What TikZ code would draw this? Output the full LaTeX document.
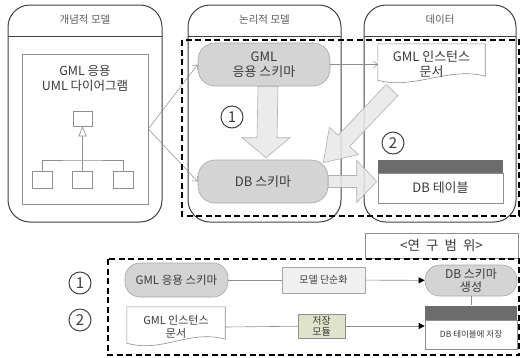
\documentclass[tikz,border=0pt]{standalone}
\usepackage{fontspec}
\setmainfont{Noto Sans CJK KR}
\usepackage{tikz}
\usetikzlibrary{arrows.meta,positioning,calc}
\usepackage{xcolor}
\definecolor{PillGray}{HTML}{D4D4D4}
\definecolor{PillLine}{HTML}{A6A6A6}
\definecolor{ArrowFill}{HTML}{E8E8E8}
\definecolor{ArrowLine}{HTML}{B0B0B0}
\definecolor{FrameLine}{HTML}{404040}
\definecolor{ThinLine}{HTML}{8E8E8E}
\definecolor{TableBar}{HTML}{6C6C6C}
\definecolor{SoftGray}{HTML}{F0F0F0}
\definecolor{SoftOlive}{HTML}{E0E3CB}
\definecolor{TextGray}{HTML}{3A3A3A}
\definecolor{HeadGray}{HTML}{5A5A5A}

\begin{document}
\begin{tikzpicture}[x=1pt,y=-1pt,
  every node/.style={text=TextGray,align=center,inner sep=1pt},
  pill/.style={draw=PillLine,fill=PillGray,rounded corners=17pt,line width=0.6pt},
  thinarr/.style={draw=ThinLine,line width=0.5pt,-{Straight Barb[length=4pt,width=7pt]}},
  bigarr/.style={draw=ArrowLine,fill=ArrowFill,fill opacity=0.85,line width=0.6pt},
  lowline/.style={draw=ThinLine,line width=0.6pt},
  lowarr/.style={lowline,-{Triangle[length=6pt,width=6pt,color=black]}},
  numcirc/.style={draw=FrameLine,circle,line width=1pt,minimum size=22pt,inner sep=0pt,font=\fontsize{15}{15}\selectfont},
  docline/.style={draw=ThinLine,fill=white,line width=0.6pt},
  arealine/.style={line width=1.4pt,dash pattern=on 6pt off 3.5pt}]
\useasboundingbox (0,0) rectangle (521,357);

% three columns
\foreach \xa/\xb/\ttl [count=\i] in {8/162/개념적 모델, 188/341/논리적 모델, 364/516/데이터} {
  \draw[FrameLine,line width=1pt,rounded corners=22pt] (\xa,36) -- (\xa,5) -- (\xb,5) -- (\xb,36);
  \draw[FrameLine,line width=1pt] (\xa,36) -- (\xb,36);
  \draw[FrameLine,line width=1pt,rounded corners=22pt] (\xa,36) -- (\xa,222) -- (\xb,222) -- (\xb,36);
  \node[text=HeadGray,font=\fontsize{10.5}{12}\selectfont] (col\i) at ({(\xa+\xb)/2},20) {\ttl};
}

% uml diagram
\node[draw=ThinLine,line width=0.6pt,minimum width=126pt,minimum height=150pt] (umlframe) at (85,129) {};
\node[font=\fontsize{12.5}{15}\selectfont] (umltitle) at (85,78) {GML 응용\\UML 다이어그램};
\node[draw=ThinLine,line width=0.6pt,minimum width=19pt,minimum height=15pt,inner sep=0pt] (cls) at (82.5,118.5) {};
\node[draw=ThinLine,line width=0.6pt,minimum width=20pt,minimum height=17pt,inner sep=0pt] (sub1) at (42,179.5) {};
\node[draw=ThinLine,line width=0.6pt,minimum width=20pt,minimum height=17pt,inner sep=0pt] (sub2) at (82.5,179.5) {};
\node[draw=ThinLine,line width=0.6pt,minimum width=20pt,minimum height=17pt,inner sep=0pt] (sub3) at (123,179.5) {};
\coordinate (junc) at (82.5,160);
\draw[lowline,-{Triangle[open,length=10pt,width=8pt]}] (junc) -- (cls.south);
\draw[lowline] (sub1.north) |- (junc) -| (sub3.north);
\draw[lowline] (sub2.north) -- (junc);

% logical model and data
\node[pill,minimum width=132pt,minimum height=43pt,font=\fontsize{13}{15.5}\selectfont] (gs) at (264,64.5) {GML\\응용 스키마};
\node[pill,minimum width=130pt,minimum height=43pt,font=\fontsize{13}{15.5}\selectfont] (ds) at (263,181.5) {DB 스키마};
\node[minimum width=107pt,minimum height=28pt] (doc) at (431.5,64) {};
\node[draw=ThinLine,line width=0.6pt,minimum width=125pt,minimum height=30pt,font=\fontsize{13}{15.5}\selectfont] (tbl) at (440.5,188) {DB 테이블};
\node[fill=TableBar,minimum width=125pt,minimum height=13pt,inner sep=0pt,above=0pt of tbl] (tblbar) {};
\node[numcirc] (n1) at (232,117) {1};
\node[numcirc] (n2) at (393,143) {2};

\draw[thinarr] (umlframe.east) -- (gs.west);
\draw[thinarr] (umlframe.east) -- (ds.west);
\draw[thinarr] (gs.east) -- (gs.east -| doc.west);

% wide arrows
\draw[bigarr] ($(gs.south)+(-6,0)$) -- ($(ds.north)+(-6,-22)$) -- ($(ds.north)+(-21,-22)$)
  -- ($(ds.north)+(3,-2)$) -- ($(ds.north)+(27,-22)$) -- ($(ds.north)+(14,-22)$) -- ($(gs.south)+(14,0)$) -- cycle;
\draw[bigarr] ($(ds.east)+(0,-6)$) -- ($(tbl.west |- ds.east)+(-21,-6)$) -- ($(tbl.west |- ds.east)+(-21,-21)$)
  -- ($(tbl.west |- ds.east)+(-1,0)$) -- ($(tbl.west |- ds.east)+(-21,21)$) -- ($(tbl.west |- ds.east)+(-21,6)$) -- ($(ds.east)+(0,6)$) -- cycle;
\begin{scope}[shift={(392,90)},rotate=226.6]
  \draw[bigarr] (0,-8) -- (70,-8) -- (70,-20) -- (100,0) -- (70,20) -- (70,8) -- (0,8) -- cycle;
\end{scope}

% research area
\node[draw=ThinLine,fill=white,line width=0.6pt,minimum width=153pt,minimum height=25pt,font=\fontsize{13.5}{15}\selectfont] (area) at (441.5,245.5) {<연~~구~~범~~위>};
\draw[arealine] (182,40) rectangle (519,216);
\draw[arealine] (108,259) rectangle (519,355);

\node[numcirc] (n1b) at (80,283) {1};
\node[numcirc] (n2b) at (80,320) {2};
\node[pill,rounded corners=15pt,minimum width=103pt,minimum height=34pt,font=\fontsize{11.5}{13}\selectfont] (gs2) at (176.5,280) {GML 응용 스키마};
\node[draw=PillLine,fill=SoftGray,line width=0.6pt,minimum width=83pt,minimum height=26pt,font=\fontsize{10}{11}\selectfont] (simp) at (323.5,280) {모델 단순화};
\node[pill,rounded corners=15pt,minimum width=92pt,minimum height=31pt,font=\fontsize{12}{13}\selectfont] (ds2) at (471,280.5) {DB 스키마\\생성};
\node[minimum width=98pt,minimum height=28pt] (doc2) at (176,327) {};
\node[draw=ThinLine,fill=SoftOlive,line width=0.6pt,minimum width=47pt,minimum height=24pt,font=\fontsize{10}{11.5}\selectfont] (store) at (321.5,326) {저장\\모듈};
\node[draw=ThinLine,line width=0.6pt,minimum width=92pt,minimum height=29pt,font=\fontsize{8.5}{10}\selectfont] (tbl2) at (471,334.5) {DB 테이블에 저장};
\node[fill=TableBar,minimum width=92pt,minimum height=14pt,inner sep=0pt,above=0pt of tbl2] (tbl2bar) {};

% document shapes
\foreach \d in {doc,doc2} {
  \draw[docline] ($(\d.north west)+(0,-6)$) -- ($(\d.north east)+(0,-6)$) -- ($(\d.south east)+(0,-2)$)
    .. controls +(-36,-10) and +(36,10) .. ($(\d.south west)+(0,2)$) -- cycle;
}
\node[font=\fontsize{13}{15.5}\selectfont] (doctext) at (doc) {GML 인스턴스\\문서};
\node[font=\fontsize{11}{13.5}\selectfont] (doc2text) at (doc2) {GML 인스턴스\\문서};

\draw[lowline] (gs2) -- (simp);
\draw[lowarr] (simp) -- (ds2);
\draw[lowline] (ds2) -- (tbl2bar);
\draw[lowline] (doc2.east) -- (store);
\draw[lowarr] (store) -- (tbl2.west |- store.east);
\end{tikzpicture}
\end{document}
